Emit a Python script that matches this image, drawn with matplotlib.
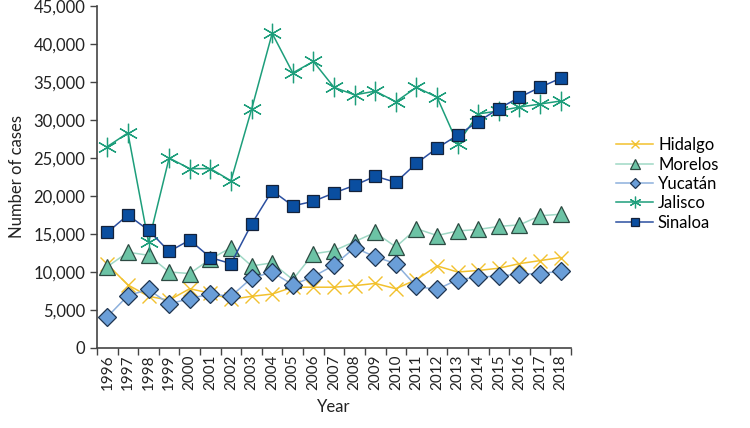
import matplotlib
matplotlib.use("Agg")
import matplotlib.pyplot as plt
from matplotlib.ticker import FuncFormatter, FixedLocator, NullFormatter

plt.rcParams['font.family'] = ['Lato', 'DejaVu Sans']

years = list(range(1996, 2019))
hidalgo = [11000, 8300, 6800, 6300, 7800, 7200, 6400, 6800, 7100, 8000, 8000, 8000, 8200, 8500, 7800,
           9000, 10800, 10000, 10200, 10500, 11100, 11500, 11900]
morelos = [10700, 12600, 12200, 10000, 9800, 11700, 13200, 10800, 11200, 9000, 12400, 12800, 14000, 15200,
           13300, 15700, 14800, 15400, 15600, 16000, 16200, 17400, 17600]
yucatan = [4100, 6900, 7700, 5800, 6500, 7100, 6800, 9200, 10000, 8300, 9400, 10900, 13200, 12000, 11100,
           8100, 7700, 9000, 9300, 9500, 9700, 9800, 10100]
jalisco = [26500, 28300, 13900, 25000, 23600, 23600, 22000, 31400, 41400, 36200, 37700, 34300, 33300, 33800,
           32400, 34300, 33000, 26900, 30800, 31200, 31700, 32100, 32500]
sinaloa = [15200, 17500, 15500, 12700, 14200, 11900, 11100, 16300, 20700, 18700, 19300, 20400, 21400, 22600,
           21800, 24300, 26300, 28000, 29800, 31500, 33000, 34300, 35500]

fig = plt.figure(figsize=(7.5, 4.28), dpi=100)
ax = fig.add_axes([97/750, 1-348/428, (571-97)/750, (348-6)/428])

x = list(range(len(years)))
ax.plot(x, hidalgo, color='#F2C12E', lw=1.1, marker='x', ms=10, mew=1.0, label='Hidalgo')
ax.plot(x, morelos, color='#9FD8C5', lw=1.1, marker='^', ms=11, mfc='#6CC3A5', mec='#2D4A42', mew=0.9,
        label='Morelos')
ax.plot(x, yucatan, color='#8DB0DC', lw=1.1, marker='D', ms=9, mfc='#6A9ED8', mec='#1F3550', mew=0.9,
        label='Yucatán')
ax.plot(x, jalisco, color='#1D9E7B', lw=1.1, marker=(6, 2, 0), ms=14, mew=0.9, label='Jalisco')
ax.plot(x, sinaloa, color='#2B4FA0', lw=1.1, marker='s', ms=9, mfc='#0A4EA0', mec='#14223A', mew=0.9,
        label='Sinaloa')

ax.set_xlim(-0.5, len(years) - 0.5)
ax.set_ylim(0, 45000)
ax.set_yticks(range(0, 45001, 5000))
ax.yaxis.set_major_formatter(FuncFormatter(lambda v, p: f'{int(v):,}'))
ax.set_xticks(x)
ax.set_xticklabels([str(y) for y in years], rotation=90, fontsize=11, color='#222222')
ax.tick_params(axis='x', length=0, pad=5)
ax.xaxis.set_minor_locator(FixedLocator([i - 0.5 for i in range(len(years) + 1)]))
ax.xaxis.set_minor_formatter(NullFormatter())
ax.tick_params(axis='x', which='minor', length=5, color='#444444', width=1)
ax.tick_params(axis='y', length=5, color='#444444', width=1, labelsize=12, labelcolor='#222222')

for s in ['top', 'right']:
    ax.spines[s].set_visible(False)
for s in ['left', 'bottom']:
    ax.spines[s].set_color('#444444')
    ax.spines[s].set_linewidth(1.2)

ax.set_ylabel('Number of cases', fontsize=12, color='#222222', labelpad=6)
ax.set_xlabel('Year', fontsize=12, color='#222222', labelpad=6)

fig.legend(loc='upper left', bbox_to_anchor=(603/750, 1-124/428), frameon=False, fontsize=12,
           handlelength=2.2, labelspacing=0.2, handletextpad=0.3, markerscale=0.6, borderpad=0.3)

fig.savefig('out.png', dpi=100)
